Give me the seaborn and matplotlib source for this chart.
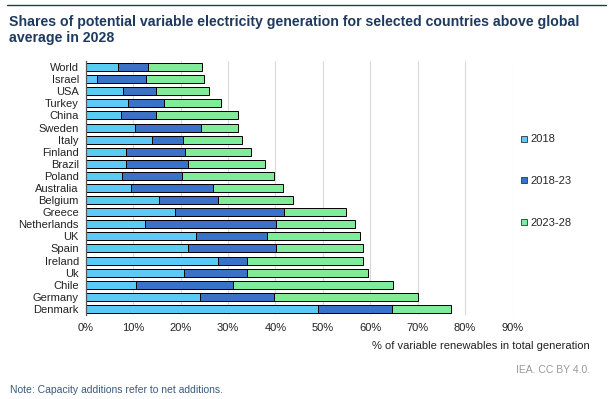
import matplotlib
matplotlib.use("Agg")
import matplotlib.pyplot as plt
import matplotlib.lines as mlines
import numpy as np
import pandas as pd
import seaborn as sns

countries = ["World", "Israel", "USA", "Turkey", "China", "Sweden", "Italy", "Finland",
             "Brazil", "Poland", "Australia", "Belgium", "Greece", "Netherlands", "UK",
             "Spain", "Ireland", "Uk", "Chile", "Germany", "Denmark"]
# share in 2018 and end-of-period cumulative shares (% of total generation)
share_2018 = [6.8, 2.4, 7.9, 9.0, 7.5, 10.3, 13.9, 8.4, 8.5, 7.6, 9.5, 15.4, 18.8,
              12.4, 23.2, 21.5, 28.0, 20.8, 10.6, 24.0, 48.9]
share_2023 = [13.1, 12.7, 14.8, 16.5, 14.8, 24.3, 20.5, 21.0, 21.5, 20.4, 26.9, 28.0,
              41.9, 40.1, 38.3, 40.1, 34.1, 34.0, 31.0, 39.8, 64.6]
share_2028 = [24.6, 25.0, 26.0, 28.5, 32.2, 32.2, 33.0, 34.8, 37.9, 39.8, 41.7, 43.7,
              54.8, 56.8, 57.9, 58.4, 58.4, 59.6, 64.7, 70.0, 77.1]
series = ["2018", "2018-23", "2023-28"]
colors = ["#5BCBF5", "#3A72C8", "#80EC9A"]

df = pd.DataFrame({"country": countries, "s2018": share_2018,
                   "s2023": share_2023, "s2028": share_2028})

sns.set_theme(style="white")
plt.rcParams["font.family"] = ["Liberation Sans", "DejaVu Sans"]

W, H = 614, 399
fig = plt.figure(figsize=(W / 100, H / 100), dpi=100)
ax = fig.add_axes([85.7 / W, 1 - 315 / H, (512.5 - 85.7) / W, (315 - 61) / H])

# stacked bars drawn as cumulative layers, longest first
for col, color in zip(["s2028", "s2023", "s2018"], colors[::-1]):
    sns.barplot(data=df, x=col, y="country", order=countries, orient="h",
                color=color, saturation=1, width=0.66, edgecolor="black",
                linewidth=0.7, ax=ax)

ax.set_xlim(0, 90)
ax.set_ylim(20.5, -0.5)
ax.set_xticks(np.arange(0, 91, 10))
ax.set_xticklabels([f"{v}%" for v in range(0, 91, 10)], fontsize=8, color="#222222")
ax.tick_params(axis="y", labelsize=8, colors="#222222", pad=5, length=0)
ax.tick_params(axis="x", pad=6, length=0)
ax.set_xlabel("")
ax.set_ylabel("")
ax.xaxis.grid(True, color="#d9d9d9", linewidth=0.8)
ax.set_axisbelow(True)
for s in ["top", "right", "bottom"]:
    ax.spines[s].set_visible(False)
ax.spines["left"].set_color("#555555")
ax.spines["left"].set_linewidth(0.9)

# legend entries spread down the right side
handles = [mlines.Line2D([], [], linestyle="none", marker="s", markersize=5,
                         markerfacecolor=c, markeredgecolor="#333333",
                         markeredgewidth=0.6) for c in colors]
fig.legend(handles, series, loc="upper left", bbox_to_anchor=(516 / W, 1 - 130 / H),
           frameon=False, fontsize=8, handlelength=0.7, handletextpad=0.2,
           labelspacing=2.85, borderaxespad=0)

fig.text(590 / W, 1 - 346 / H, "% of variable renewables in total generation",
         ha="right", va="center", fontsize=8, color="#222222")
fig.text(590 / W, 1 - 370 / H, "IEA. CC BY 4.0.", ha="right", va="center",
         fontsize=7.5, color="#999999")
fig.text(10 / W, 1 - 390 / H, "Note: Capacity additions refer to net additions.",
         ha="left", va="center", fontsize=7.5, color="#3a5a80")
fig.text(9 / W, 1 - 30 / H,
         "Shares of potential variable electricity generation for selected countries above global\naverage in 2028",
         ha="left", va="center", fontsize=10.2, fontweight="bold", color="#1F3A5F",
         linespacing=1.15)
fig.add_artist(mlines.Line2D([7 / W, 606 / W], [1 - 5 / H, 1 - 5 / H],
                             color="#1F3A5F", linewidth=1.0))

fig.savefig("out.png", dpi=100)
